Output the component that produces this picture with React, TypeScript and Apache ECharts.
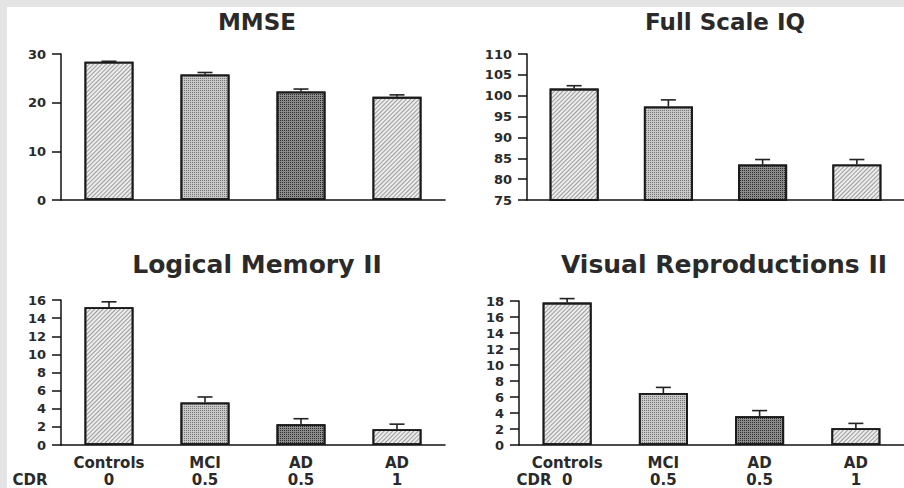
import React, { useEffect, useRef } from "react";
import * as echarts from "echarts";

const groups = ["Controls", "MCI", "AD", "AD"];
const cdr = ["0", "0.5", "0.5", "1"];

const titles = ["MMSE", "Full Scale IQ", "Logical Memory II", "Visual Reproductions II"];

const mmseMean = [28.4, 25.8, 22.3, 21.2];
const mmseUpper = [28.5, 26.2, 22.8, 21.6];

const iqMean = [101.7, 97.4, 83.5, 83.5];
const iqUpper = [102.4, 99.0, 84.7, 84.7];

const lmMean = [15.2, 4.7, 2.3, 1.75];
const lmUpper = [15.8, 5.3, 2.9, 2.3];

const vrMean = [17.8, 6.5, 3.6, 2.1];
const vrUpper = [18.3, 7.2, 4.3, 2.7];

const yMin = [0, 75, 0, 0];
const yMax = [30, 110, 16, 18];
const yInterval = [10, 5, 2, 2];

const FONT = "DejaVu Sans";
const TEXT = "#2a2a2a";

const hatch = (bg: string, fg: string) => ({
  color: bg,
  decal: {
    symbol: "rect",
    symbolSize: 1,
    dashArrayX: [1, 0],
    dashArrayY: [1, 2],
    rotation: -Math.PI / 4,
    color: fg,
  },
});
const dots = (bg: string, fg: string) => ({
  color: bg,
  decal: {
    symbol: "rect",
    symbolSize: 1,
    dashArrayX: [1, 1],
    dashArrayY: [1, 1],
    rotation: 0,
    color: fg,
  },
});

const barStyles = [
  hatch("#ececec", "rgba(90,90,90,0.55)"),
  dots("#c8c8c8", "rgba(60,60,60,0.6)"),
  dots("#8c8c8c", "rgba(20,20,20,0.8)"),
  hatch("#ececec", "rgba(90,90,90,0.55)"),
];

export default function App() {
  const ref = useRef<HTMLDivElement>(null);
  useEffect(() => {
    if (!ref.current) return;
    const chart = echarts.init(ref.current, undefined, { renderer: "svg" });

    const grids = [
      { left: 61, top: 54, width: 384, height: 146 },
      { left: 527, top: 54, width: 383, height: 146 },
      { left: 61, top: 300, width: 384, height: 146 },
      { left: 519, top: 301, width: 389, height: 145 },
    ];
    const means = [mmseMean, iqMean, lmMean, vrMean];
    const uppers = [mmseUpper, iqUpper, lmUpper, vrUpper];

    const xAxis = grids.map((_, i) => ({
      type: "category",
      gridIndex: i,
      data: groups.map((g, j) => (i >= 2 ? g + "\n" + cdr[j] : g)),
      axisLine: { show: true, onZero: false, lineStyle: { color: "#111", width: 1.5 } },
      axisTick: { show: false },
      axisLabel: {
        show: i >= 2,
        margin: 9,
        fontFamily: FONT,
        fontWeight: "bold",
        fontSize: 15,
        lineHeight: 17,
        color: TEXT,
      },
      splitLine: { show: false },
    }));

    const yAxis = grids.map((_, i) => ({
      type: "value",
      gridIndex: i,
      min: yMin[i],
      max: yMax[i],
      interval: yInterval[i],
      axisLine: { show: true, lineStyle: { color: "#111", width: 1.5 } },
      axisTick: { show: true, inside: false, length: 9, lineStyle: { color: "#111", width: 1.5 } },
      axisLabel: { margin: 15, fontFamily: FONT, fontWeight: "bold", fontSize: 13, color: TEXT },
      splitLine: { show: false },
    }));

    const series: any[] = [];
    grids.forEach((_, i) => {
      series.push({
        type: "bar",
        xAxisIndex: i,
        yAxisIndex: i,
        barWidth: 49,
        data: means[i].map((v, j) => ({
          value: v,
          itemStyle: { ...barStyles[j], borderColor: "#1a1a1a", borderWidth: 1.8 },
        })),
        z: 2,
      });
      series.push({
        type: "custom",
        xAxisIndex: i,
        yAxisIndex: i,
        data: means[i].map((v, j) => [j, v, uppers[i][j]]),
        z: 3,
        renderItem: (params: any, api: any) => {
          const p0 = api.coord([api.value(0), api.value(1)]);
          const p1 = api.coord([api.value(0), api.value(2)]);
          const half = 7.5;
          const st = { stroke: "#222", lineWidth: 1.6 };
          return {
            type: "group",
            children: [
              { type: "line", shape: { x1: p0[0], y1: p0[1], x2: p1[0], y2: p1[1] }, style: st },
              { type: "line", shape: { x1: p1[0] - half, y1: p1[1], x2: p1[0] + half, y2: p1[1] }, style: st },
            ],
          };
        },
      });
    });

    const title = [
      { text: titles[0], left: 252, top: 5, fontSize: 23 },
      { text: titles[1], left: 720, top: 5, fontSize: 23 },
      { text: titles[2], left: 252, top: 247, fontSize: 25 },
      { text: titles[3], left: 719, top: 247, fontSize: 25 },
    ].map((t) => ({
      text: t.text,
      left: t.left,
      top: t.top,
      textAlign: "center",
      textStyle: { fontFamily: FONT, fontWeight: "bold", fontSize: t.fontSize, color: TEXT },
    }));

    chart.setOption({
      animation: false,
      backgroundColor: "#ffffff",
      title,
      grid: grids,
      xAxis,
      yAxis,
      series,
      graphic: [
        { type: "rect", shape: { x: 0, y: 0, width: 904, height: 7 }, style: { fill: "#e4e4e4" }, silent: true },
        { type: "rect", shape: { x: 0, y: 0, width: 7, height: 488 }, style: { fill: "#e4e4e4" }, silent: true },
        {
          type: "text",
          x: 30,
          y: 480,
          style: { text: "CDR", fontFamily: FONT, fontWeight: "bold", fontSize: 15, fill: TEXT, textAlign: "center", textVerticalAlign: "middle" },
        },
        {
          type: "text",
          x: 534,
          y: 480,
          style: { text: "CDR", fontFamily: FONT, fontWeight: "bold", fontSize: 15, fill: TEXT, textAlign: "center", textVerticalAlign: "middle" },
        },
      ],
    });
    return () => chart.dispose();
  }, []);
  return (
    <div
      ref={ref}
      style={{ position: "absolute", left: 0, top: 0, width: 904, height: 488 }}
    />
  );
}
